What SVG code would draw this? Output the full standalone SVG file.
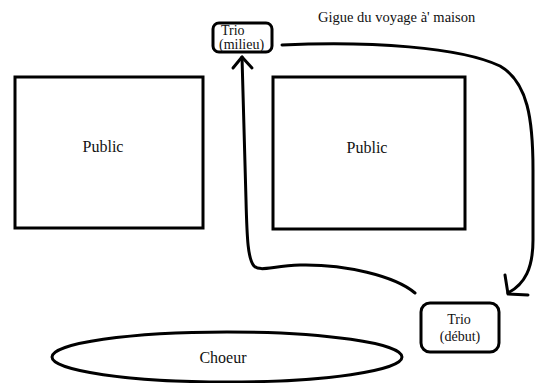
<svg xmlns="http://www.w3.org/2000/svg" width="538" height="383" viewBox="0 0 538 383">
<style>
.box{fill:#fff;stroke:#000;stroke-width:3}
.ln{fill:none;stroke:#000;stroke-width:3;stroke-linecap:round;stroke-linejoin:round}
text{font-family:"Liberation Serif","Times New Roman",serif;fill:#111}
.big{font-size:16px}
.sm{font-size:14px}
</style>
<rect width="538" height="383" fill="#fff"/>
<g id="public-left">
<rect class="box" x="15" y="77" width="188" height="151"/>
<text class="big" x="103" y="152" text-anchor="middle">Public</text>
</g>
<g id="public-right">
<rect class="box" x="273" y="77" width="192" height="152"/>
<text class="big" x="367" y="153" text-anchor="middle">Public</text>
</g>
<g id="trio-milieu">
<rect class="box" x="213" y="23" width="59" height="29" rx="6"/>
<text class="sm" x="221" y="35">Trio</text>
<text class="sm" x="219" y="49">(milieu)</text>
</g>
<g id="trio-debut">
<rect class="box" x="421" y="303" width="78" height="49" rx="9"/>
<text class="sm" x="459" y="324" text-anchor="middle">Trio</text>
<text class="sm" x="460" y="341" text-anchor="middle">(début)</text>
</g>
<g id="choeur">
<ellipse class="box" cx="227" cy="357" rx="175" ry="25"/>
<text class="big" x="223" y="363" text-anchor="middle">Choeur</text>
</g>
<g id="title">
<text style="font-size:14.5px" x="318" y="22">Gigue du voyage à' maison</text>
</g>
<g id="connectors">
<path class="ln" d="M282,45 C370,41 460,47 500,66 C528,82 533,120 533,170 L533,240 C533,268 525,284 508,293"/>
<path class="ln" d="M505,275 L508,294 L528,295"/>
<path class="ln" d="M415,293 C395,276 345,264 300,265 C272,266 260,272 254,266 C248,259 247,240 246,200 L242,57"/>
<path class="ln" d="M233,68 L242,57 L252,68"/>
</g>
</svg>
